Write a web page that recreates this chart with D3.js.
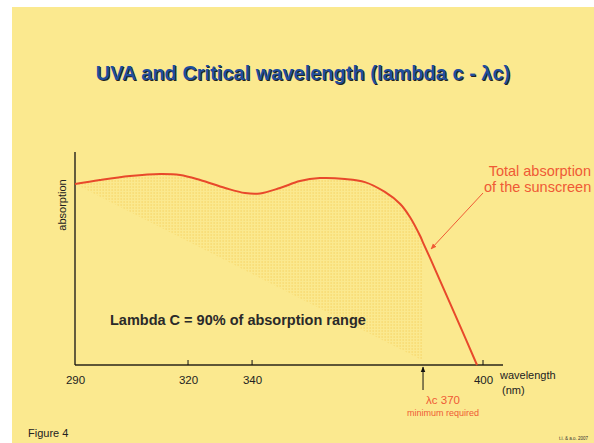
<!DOCTYPE html>
<html><head><meta charset="utf-8">
<script src="https://cdn.jsdelivr.net/npm/d3@7/dist/d3.min.js"></script>
<style>body{margin:0;background:#fff}svg{display:block}</style>
</head><body>
<svg id="c" width="594" height="443"></svg>
<script>
// Data
const wavelengthTicks = [290, 320, 340, 400];
const criticalWavelength = 370;
const wavelengths = [290, 296.6, 304.6, 312.6, 317.9, 323.8, 331.6, 337.8, 341.4, 344.9, 348.4, 351.9, 356.3, 359.8, 363.3, 366, 367.7, 369.5, 370, 373.5, 381, 388.5, 397];
const absorption  = [86.2, 88.1, 90, 91, 90.5, 88.1, 84.3, 81.9, 81.7, 84.3, 87.6, 89, 88.6, 87.1, 82.4, 76.7, 70.5, 61.4, 58.3, 51, 34.8, 18.6, 0];
const shadedBottomAbs = 2;

const svg = d3.select("#c");
svg.append("rect").attr("x",12).attr("y",7).attr("width",582).attr("height",436).attr("fill","#FBE98F");

const L = 75, R = 483, T = 155, B = 365;
const W = R - L;
// hand-drawn, non-uniform wavelength axis
const x = d3.scaleLinear().domain([290, 320, 340, 370, 400])
  .range([L, L + W*0.277, L + W*0.434, L + W*0.853, R]);
const y = d3.scaleLinear().domain([0, 100]).range([B, T]);

// dotted pattern
const defs = svg.append("defs");
const pat = defs.append("pattern").attr("id","dots").attr("patternUnits","userSpaceOnUse")
  .attr("width",3).attr("height",3);
pat.append("rect").attr("x",0.5).attr("y",0.5).attr("width",1.2).attr("height",1).attr("fill","#F2BF38").attr("opacity",0.7);
defs.append("marker").attr("id","ah").attr("viewBox","0 0 10 10").attr("refX",9).attr("refY",5)
  .attr("markerWidth",6).attr("markerHeight",6).attr("orient","auto")
  .append("path").attr("d","M0,1L10,5L0,9z").attr("fill","#EF5A35");
defs.append("marker").attr("id","ahk").attr("viewBox","0 0 10 10").attr("refX",9).attr("refY",5)
  .attr("markerWidth",6).attr("markerHeight",6).attr("orient","auto")
  .append("path").attr("d","M0,1L10,5L0,9z").attr("fill","#111");

// shaded region
const pts = wavelengths.map((w,i)=>[w,absorption[i]]).filter(d=>d[0]<=criticalWavelength);
const poly = pts.concat([[criticalWavelength, shadedBottomAbs]]);
svg.append("path")
  .attr("d", d3.line().x(d=>x(d[0])).y(d=>y(d[1])).curve(d3.curveLinearClosed)(poly))
  .attr("fill","url(#dots)");

// axes
svg.append("line").attr("x1",L).attr("x2",503).attr("y1",B).attr("y2",B).attr("stroke","#5E5636").attr("stroke-width",2);
svg.append("line").attr("x1",L).attr("x2",L).attr("y1",T-3).attr("y2",B).attr("stroke","#111").attr("stroke-width",1.3);
const xAxis = d3.axisBottom(x).tickValues(wavelengthTicks).tickSize(0).tickPadding(11);
const ga = svg.append("g").attr("transform",`translate(0,${B})`).call(xAxis);
ga.select(".domain").remove();
ga.selectAll("text").attr("font-family","Liberation Sans, Arial, sans-serif").attr("font-size",11.5).attr("fill","#222");
svg.selectAll(".tk").data(wavelengthTicks.slice(1)).enter().append("line")
  .attr("x1",d=>x(d)).attr("x2",d=>x(d)).attr("y1",B-5).attr("y2",B).attr("stroke","#111").attr("stroke-width",1);

// curve
svg.append("path")
  .attr("d", d3.line().x((d,i)=>x(wavelengths[i])).y((d,i)=>y(absorption[i])).curve(d3.curveCatmullRom)(wavelengths))
  .attr("fill","none").attr("stroke","#E8492B").attr("stroke-width",2);

const F = "Liberation Sans, Arial, sans-serif";
// title
const title = svg.append("text").attr("x",303).attr("y",80).attr("text-anchor","middle")
  .attr("font-family",F).attr("font-weight","bold").attr("font-size",20);
title.append("tspan").text("UVA and Critical wavelength (lambda c - ");
title.append("tspan").text("λc)");
title.clone(true).lower().attr("fill","#222").attr("transform","translate(1,1)");
title.attr("fill","#1F4E9E");
svg.selectAll("rect").lower();

svg.append("text").attr("transform","translate(66,205) rotate(-90)").attr("text-anchor","middle")
  .attr("font-family",F).attr("font-size",11).attr("fill","#222").text("absorption");

svg.append("text").attr("x",500).attr("y",379).attr("font-family",F).attr("font-size",11).attr("fill","#222").text("wavelength");
svg.append("text").attr("x",502).attr("y",394).attr("font-family",F).attr("font-size",11).attr("fill","#222").text("(nm)");

svg.append("text").attr("x",110).attr("y",325).attr("font-family",F).attr("font-weight","bold").attr("font-size",14.5).attr("fill","#2a2a2a")
  .text("Lambda C = 90% of absorption range");

svg.append("text").attr("x",591).attr("y",176).attr("text-anchor","end").attr("font-family",F).attr("font-size",14.5).attr("fill","#EF5A35").text("Total absorption");
svg.append("text").attr("x",484).attr("y",192).attr("font-family",F).attr("font-size",14.5).attr("fill","#EF5A35").text("of the sunscreen");
svg.append("line").attr("x1",483).attr("y1",193).attr("x2",431).attr("y2",249).attr("stroke","#EF5A35").attr("stroke-width",1).attr("marker-end","url(#ah)");

const xc = x(criticalWavelength);
svg.append("line").attr("x1",xc).attr("x2",xc).attr("y1",390).attr("y2",367).attr("stroke","#111").attr("stroke-width",1).attr("marker-end","url(#ahk)");
svg.append("text").attr("x",443).attr("y",404).attr("text-anchor","middle").attr("font-family",F).attr("font-size",11.5).attr("fill","#EF5A35").text("λc " + criticalWavelength);
svg.append("text").attr("x",443).attr("y",416).attr("text-anchor","middle").attr("font-family",F).attr("font-size",9).attr("fill","#EF5A35").text("minimum required");

svg.append("text").attr("x",28).attr("y",437).attr("font-family",F).attr("font-size",11).attr("fill","#222").text("Figure 4");
svg.append("text").attr("x",588).attr("y",440).attr("text-anchor","end").attr("font-family",F).attr("font-size",4.5).attr("fill","#333").text("t.i. & a.o. 2007");
</script>
</body></html>
